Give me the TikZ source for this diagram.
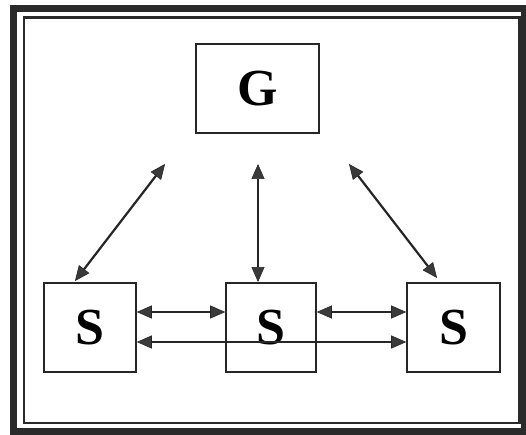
\documentclass[tikz,border=0pt]{standalone}
\usepackage{fontspec}
\setmainfont{Liberation Serif}
\usetikzlibrary{arrows.meta}
\definecolor{ink}{HTML}{262626}
\definecolor{tip}{HTML}{3A3A3A}
\definecolor{frame}{HTML}{2A2A2A}
\begin{document}
\begin{tikzpicture}[x=1pt,y=-1pt,
  box/.style={draw=ink,line width=1.6pt,fill=white,inner sep=0pt,
    font=\fontsize{52}{62}\selectfont\bfseries},
  link/.style={draw=ink,line width=2.2pt,
    {Triangle[length=15pt,width=13pt,fill=tip,line width=0.6pt]}-{Triangle[length=15pt,width=13pt,fill=tip,line width=0.6pt]}}]
\useasboundingbox (0,0) rectangle (526,435);
\fill[white] (0,0) rectangle (526,435);
% frame
\draw[frame,line width=7pt] (13,9) rectangle (524,431);
\draw[frame,line width=2.2pt] (24,17.5) rectangle (519.5,423);
% boxes
\node[box,minimum width=123pt,minimum height=89pt] (g) at (257.5,88.5) {G};
\node[box,minimum width=92pt,minimum height=89pt] (s1) at (90,327.5) {S};
\node[box,minimum width=90pt,minimum height=89pt] (s2) at (271,327.5) {S};
\node[box,minimum width=93pt,minimum height=89pt] (s3) at (453.5,327.5) {S};
% free ends
\coordinate (a1) at (165,164);
\coordinate (b1) at (75,281);
\coordinate (a2) at (258,164);
\coordinate (b2) at (258,282);
\coordinate (a3) at (349,164);
\coordinate (b3) at (437,278);
\coordinate (u1) at (s1.east |- 0,312);
\coordinate (u2) at (s2.west |- 0,312);
\coordinate (u3) at (s2.east |- 0,312);
\coordinate (u4) at (s3.west |- 0,312);
\coordinate (l1) at (s1.east |- 0,342);
\coordinate (l2) at (s3.west |- 0,342);
% connectors
\draw[link] (a1) -- (b1);
\draw[link] (a2) -- (b2);
\draw[link] (a3) -- (b3);
\draw[link] (u1) -- (u2);
\draw[link] (u3) -- (u4);
\draw[link] (l1) -- (l2);
\end{tikzpicture}
\end{document}
